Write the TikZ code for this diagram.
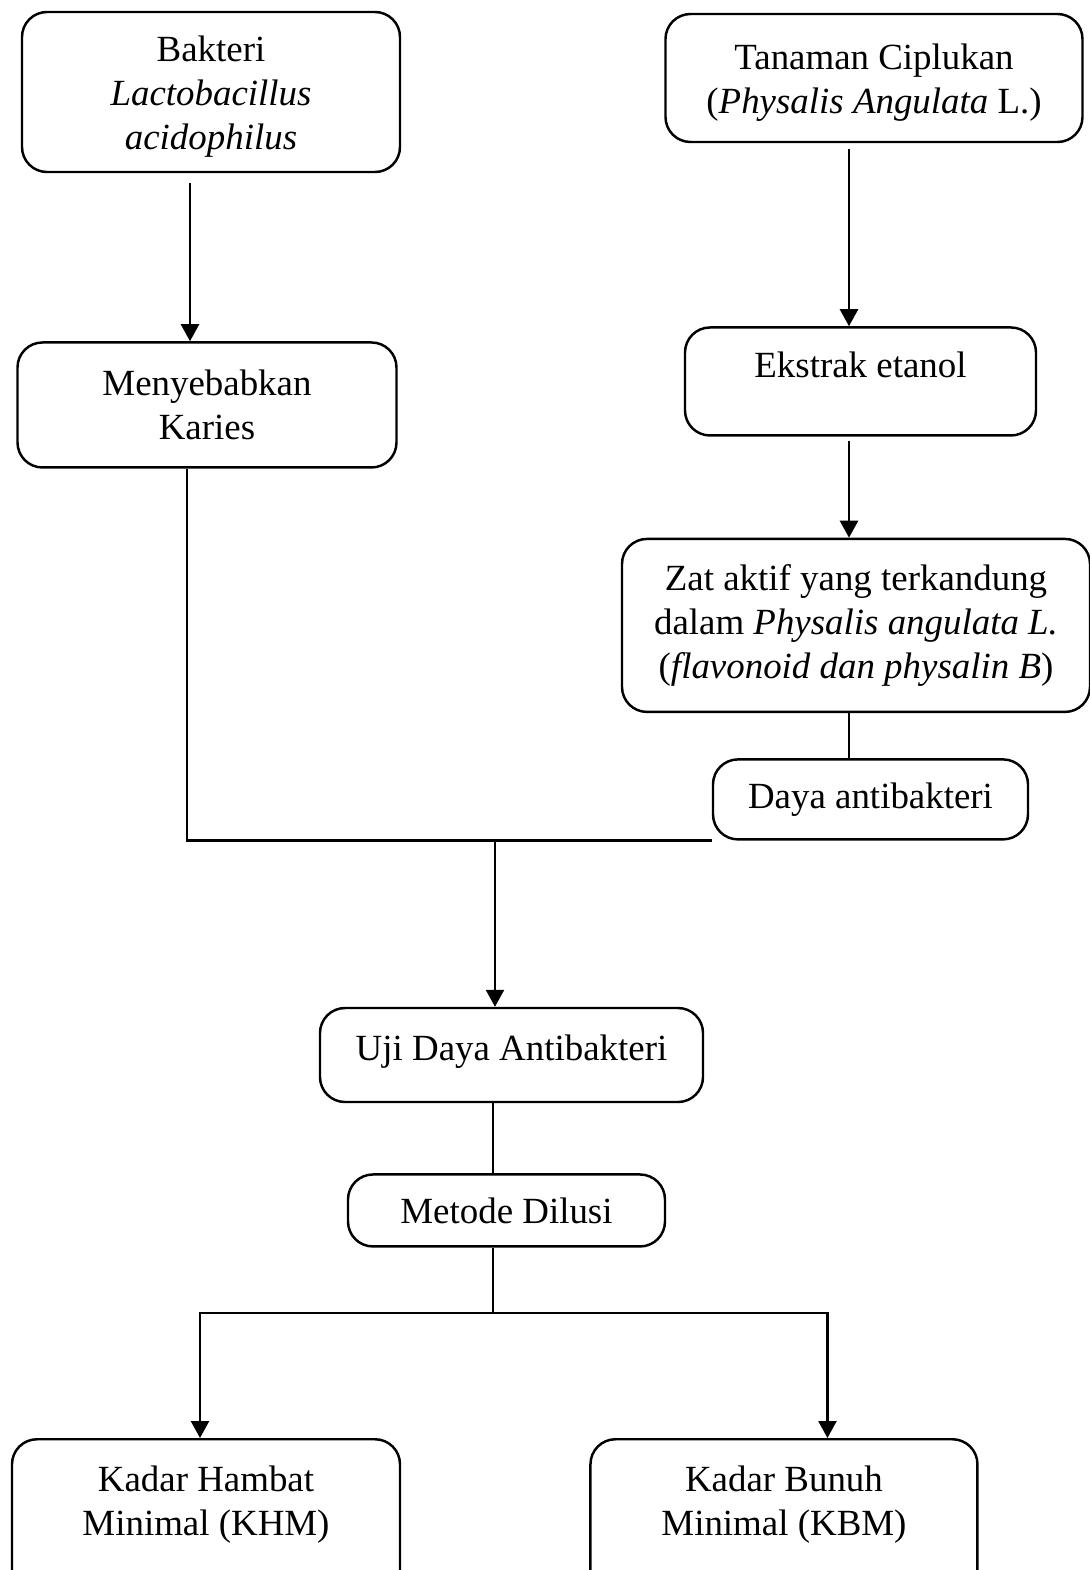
\documentclass[tikz,border=0pt]{standalone}
\usepackage{fontspec}
\setmainfont{Liberation Serif}
\usetikzlibrary{positioning, arrows.meta}
\tikzset{
    stage/.style={rectangle, draw=black, line width=1.4pt, rounded corners=0.5cm, align=center, font=\fontsize{21}{24.8}\selectfont},
    arrow/.style={-{Triangle[length=0.34cm, width=0.36cm]}, line width=1.4pt},
    link/.style={line width=1.4pt}
}
\begin{document}
\begin{tikzpicture}
    \clip (0,0) rectangle (21.8,-31.4);

    % Left column
    \node[stage, minimum width=7.56cm, inner ysep=0pt, text height=2.74cm, text depth=0.46cm] (bakteri) at (4.22,-1.84) {Bakteri\\\textit{Lactobacillus}\\\textit{acidophilus}};
    \node[stage, minimum width=7.58cm, minimum height=2.5cm, below=3.36cm of bakteri, xshift=-0.08cm] (karies) {Menyebabkan\\Karies};

    % Right column
    \node[stage, minimum width=8.34cm, inner ysep=0pt, text height=1.98cm, text depth=0.58cm] (tanaman) at (17.48,-1.56) {Tanaman Ciplukan\\(\textit{Physalis Angulata} L.)};
    \node[stage, minimum width=7.02cm, inner ysep=0pt, text height=1.0cm, text depth=1.16cm, below=3.66cm of tanaman, xshift=-0.27cm] (ekstrak) {Ekstrak etanol};
    \node[stage, minimum width=9.36cm, minimum height=3.46cm, below=2.02cm of ekstrak, xshift=-0.09cm] (zat) {Zat aktif yang terkandung\\dalam \textit{Physalis angulata L.}\\(\textit{flavonoid dan physalin B})};
    \node[stage, minimum width=6.3cm, minimum height=1.6cm, below=0.9cm of zat, xshift=0.29cm] (daya) {Daya antibakteri};

    % Test
    \node[stage, minimum width=7.66cm, inner ysep=0pt, text height=1.04cm, text depth=0.84cm] (uji) at (10.23,-21.1) {Uji Daya Antibakteri};
    \node[stage, minimum width=6.34cm, minimum height=1.44cm, below=1.4cm of uji, xshift=-0.1cm] (metode) {Metode Dilusi};

    % Results
    \node[stage, anchor=north, minimum width=7.76cm, inner ysep=0pt, text height=1.92cm, text depth=1.6cm] (khm) at (4.12,-28.76) {Kadar Hambat\\Minimal (KHM)};
    \node[stage, minimum width=7.74cm, inner ysep=0pt, text height=1.92cm, text depth=1.6cm, right=3.76cm of khm] (kbm) {Kadar Bunuh\\Minimal (KBM)};

    \coordinate (meet) at ([xshift=-0.33cm]uji.north |- daya.south);
    \coordinate (split) at (9.86,-26.26);

    % Connections
    \draw[arrow, shorten <=0.2cm] ([xshift=-0.42cm]bakteri.south) -- ([xshift=-0.42cm]bakteri.south |- karies.north);
    \draw[arrow, shorten <=0.12cm] ([xshift=-0.5cm]tanaman.south) -- ([xshift=-0.5cm]tanaman.south |- ekstrak.north);
    \draw[arrow, shorten <=0.08cm] ([xshift=-0.23cm]ekstrak.south) -- ([xshift=-0.23cm]ekstrak.south |- zat.north);
    \draw[link] ([xshift=-0.14cm]zat.south) -- ([xshift=-0.14cm]zat.south |- daya.north);
    \draw[link] ([xshift=-0.4cm]karies.south) |- (daya.south west);
    \draw[arrow] (meet) -- (meet |- uji.north);
    \draw[link] (split |- uji.south) -- (split |- metode.north);
    \draw[link] (split |- metode.south) -- (split);
    \draw[arrow] (split) -| ([xshift=-0.12cm]khm.north);
    \draw[arrow] (split) -| ([xshift=0.87cm]kbm.north);

\end{tikzpicture}
\end{document}
